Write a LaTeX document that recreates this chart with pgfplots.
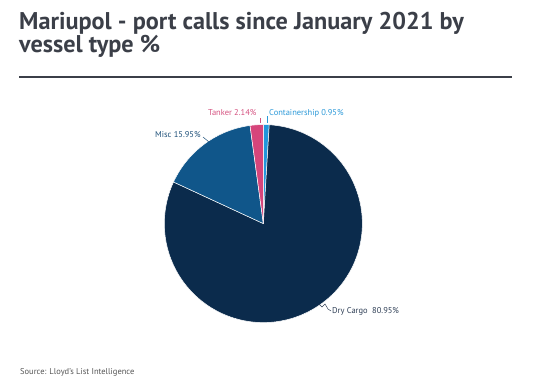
\documentclass[border=0pt]{standalone}
\usepackage{fontspec}
\setmainfont{PT Sans}
\usepackage{pgfplots}
\pgfplotsset{compat=1.18}
\definecolor{cDry}{HTML}{0B2B4C}
\definecolor{cMisc}{HTML}{10568A}
\definecolor{cTank}{HTML}{D6457B}
\definecolor{cCont}{HTML}{2196DB}
\definecolor{cTitle}{HTML}{3B3F48}
\definecolor{lDry}{HTML}{2E3E55}
\definecolor{lMisc}{HTML}{1D4F78}
\definecolor{lTank}{HTML}{D4517F}
\definecolor{lCont}{HTML}{2A98D8}
\definecolor{cSrc}{HTML}{555555}
% shares (%) clockwise from 12 o'clock
\def\vCont{0.95}
\def\vDry{80.95}
\def\vMisc{15.95}
\def\vTank{2.14}
\pgfmathsetmacro\aA{90}
\pgfmathsetmacro\aB{\aA-3.6*\vCont}
\pgfmathsetmacro\aC{\aB-3.6*\vDry}
\pgfmathsetmacro\aD{\aC-3.6*\vMisc}
\pgfmathsetmacro\aE{\aD-3.6*\vTank}
\begin{document}
\begin{tikzpicture}[x=1bp,y=1bp]
\path[use as bounding box] (0,0) rectangle (554,380);
\node[anchor=base west,inner sep=0,align=left,text=cTitle,font=\fontsize{24.3}{19.7}\selectfont\bfseries] at (19,327.3) {Mariupol - port calls since January 2021 by\\vessel type \%};
\draw[cTitle,line width=1.8bp] (19,303) -- (512,303);
\begin{axis}[at={(266,158)},anchor=center,scale only axis,width=198bp,height=198bp,
  xmin=-1,xmax=1,ymin=-1,ymax=1,hide axis,clip=false]
\addplot[fill=cCont,draw=white,line width=0.5pt,domain=\aB:\aA,samples=6] ({cos(x)},{sin(x)}) -- (axis cs:0,0) -- cycle;
\addplot[fill=cDry,draw=white,line width=0.5pt,domain=\aC:\aB,samples=160] ({cos(x)},{sin(x)}) -- (axis cs:0,0) -- cycle;
\addplot[fill=cMisc,draw=white,line width=0.5pt,domain=\aD:\aC,samples=40] ({cos(x)},{sin(x)}) -- (axis cs:0,0) -- cycle;
\addplot[fill=cTank,draw=white,line width=0.5pt,domain=\aE:\aD,samples=8] ({cos(x)},{sin(x)}) -- (axis cs:0,0) -- cycle;
\end{axis}
% leader lines
\draw[lMisc,line width=0.5pt] (203,243) -- (209,238);
\draw[lTank,line width=0.5pt] (260,262) -- (260,257);
\draw[lCont,line width=0.5pt] (267,264) -- (267,257);
\draw[lDry,line width=0.5pt] (319,76) -- (322,73) -- (325,76) -- (328,71) -- (331,69);
% labels
\node[anchor=west,inner sep=0,text=lTank,font=\fontsize{8.5}{9}\selectfont] at (208,267) {Tanker 2.14\%};
\node[anchor=west,inner sep=0,text=lCont,font=\fontsize{8.5}{9}\selectfont] at (269,267) {Containership 0.95\%};
\node[anchor=west,inner sep=0,text=lMisc,font=\fontsize{8.5}{9}\selectfont] at (155,245) {Misc 15.95\%};
\node[anchor=west,inner sep=0,text=lDry,font=\fontsize{8.5}{9}\selectfont] at (332,69) {Dry Cargo\ \ 80.95\%};
\node[anchor=west,inner sep=0,text=cSrc,font=\fontsize{8.5}{9}\selectfont] at (20,8) {Source: Lloyd's List Intelligence};
\end{tikzpicture}
\end{document}
